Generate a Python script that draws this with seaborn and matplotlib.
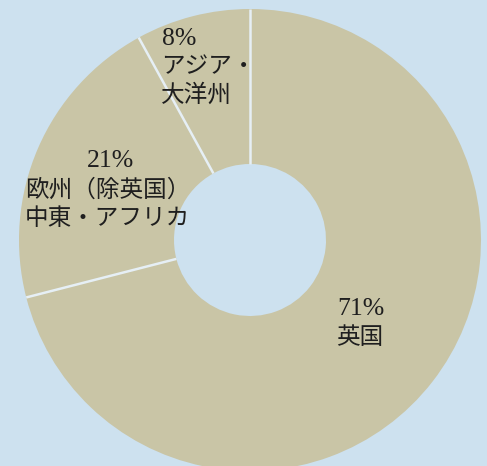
import matplotlib
matplotlib.use("Agg")
import matplotlib.pyplot as plt
import numpy as np
import seaborn as sns

sns.set_theme(style="white")
plt.rcParams['font.family'] = ['Noto Sans CJK JP', 'DejaVu Sans']

# Regional share (clockwise from 12 o'clock)
regions = ["英国", "欧州（除英国）\n中東・アフリカ", "アジア・\n大洋州"]
shares = [71, 21, 8]
pct_labels = ["71%", "21%", "8%"]

bg = "#cde1ef"
ring = "#c9c5a6"
sep = "#e6eff5"
ink = "#1f1f1f"

W, H = 487, 466
fig = plt.figure(figsize=(W / 100, H / 100), dpi=100, facecolor=bg)
ax = fig.add_axes([0, 0, 1, 1])
ax.set_facecolor(bg)

cx, cy = 250, H - 240
r_out, r_in = 231, 76
ax.pie(shares, colors=[ring] * len(shares), startangle=90, counterclock=False,
       center=(cx, cy), radius=r_out, frame=True,
       wedgeprops=dict(width=r_out - r_in, edgecolor="none", linewidth=0))

# light separators on the wedge boundaries
bounds = 90 - 360 * np.cumsum([0] + shares[:-1]) / sum(shares)
for a in np.deg2rad(bounds):
    ax.plot([cx + r_in * np.cos(a), cx + r_out * np.cos(a)],
            [cy + r_in * np.sin(a), cy + r_out * np.sin(a)],
            color=sep, lw=1.8, solid_capstyle="butt")

ax.set_xlim(0, W)
ax.set_ylim(0, H)
ax.set_aspect("equal")
ax.axis("off")

# label blocks: percentage line (serif digits) then region name lines
fs = 17
layout = {
    0: dict(pct=(337, 309), name=(338, 338)),
    1: dict(pct=(87, 161), name=(27, 190)),
    2: dict(pct=(162, 39), name=(163, 67)),
}
line_gap = 28.5
for i, (name, pct) in enumerate(zip(regions, pct_labels)):
    px, py = layout[i]["pct"]
    ax.text(px, H - py, pct, ha="left", va="center", fontsize=18.5,
            family=["Liberation Serif", "DejaVu Serif"], color=ink)
    nx, ny = layout[i]["name"]
    for k, line in enumerate(name.split("\n")):
        ax.text(nx - 2, H - (ny + k * line_gap), line, ha="left", va="center",
                fontsize=fs, color=ink)

fig.savefig("out.png", dpi=100, facecolor=bg)
